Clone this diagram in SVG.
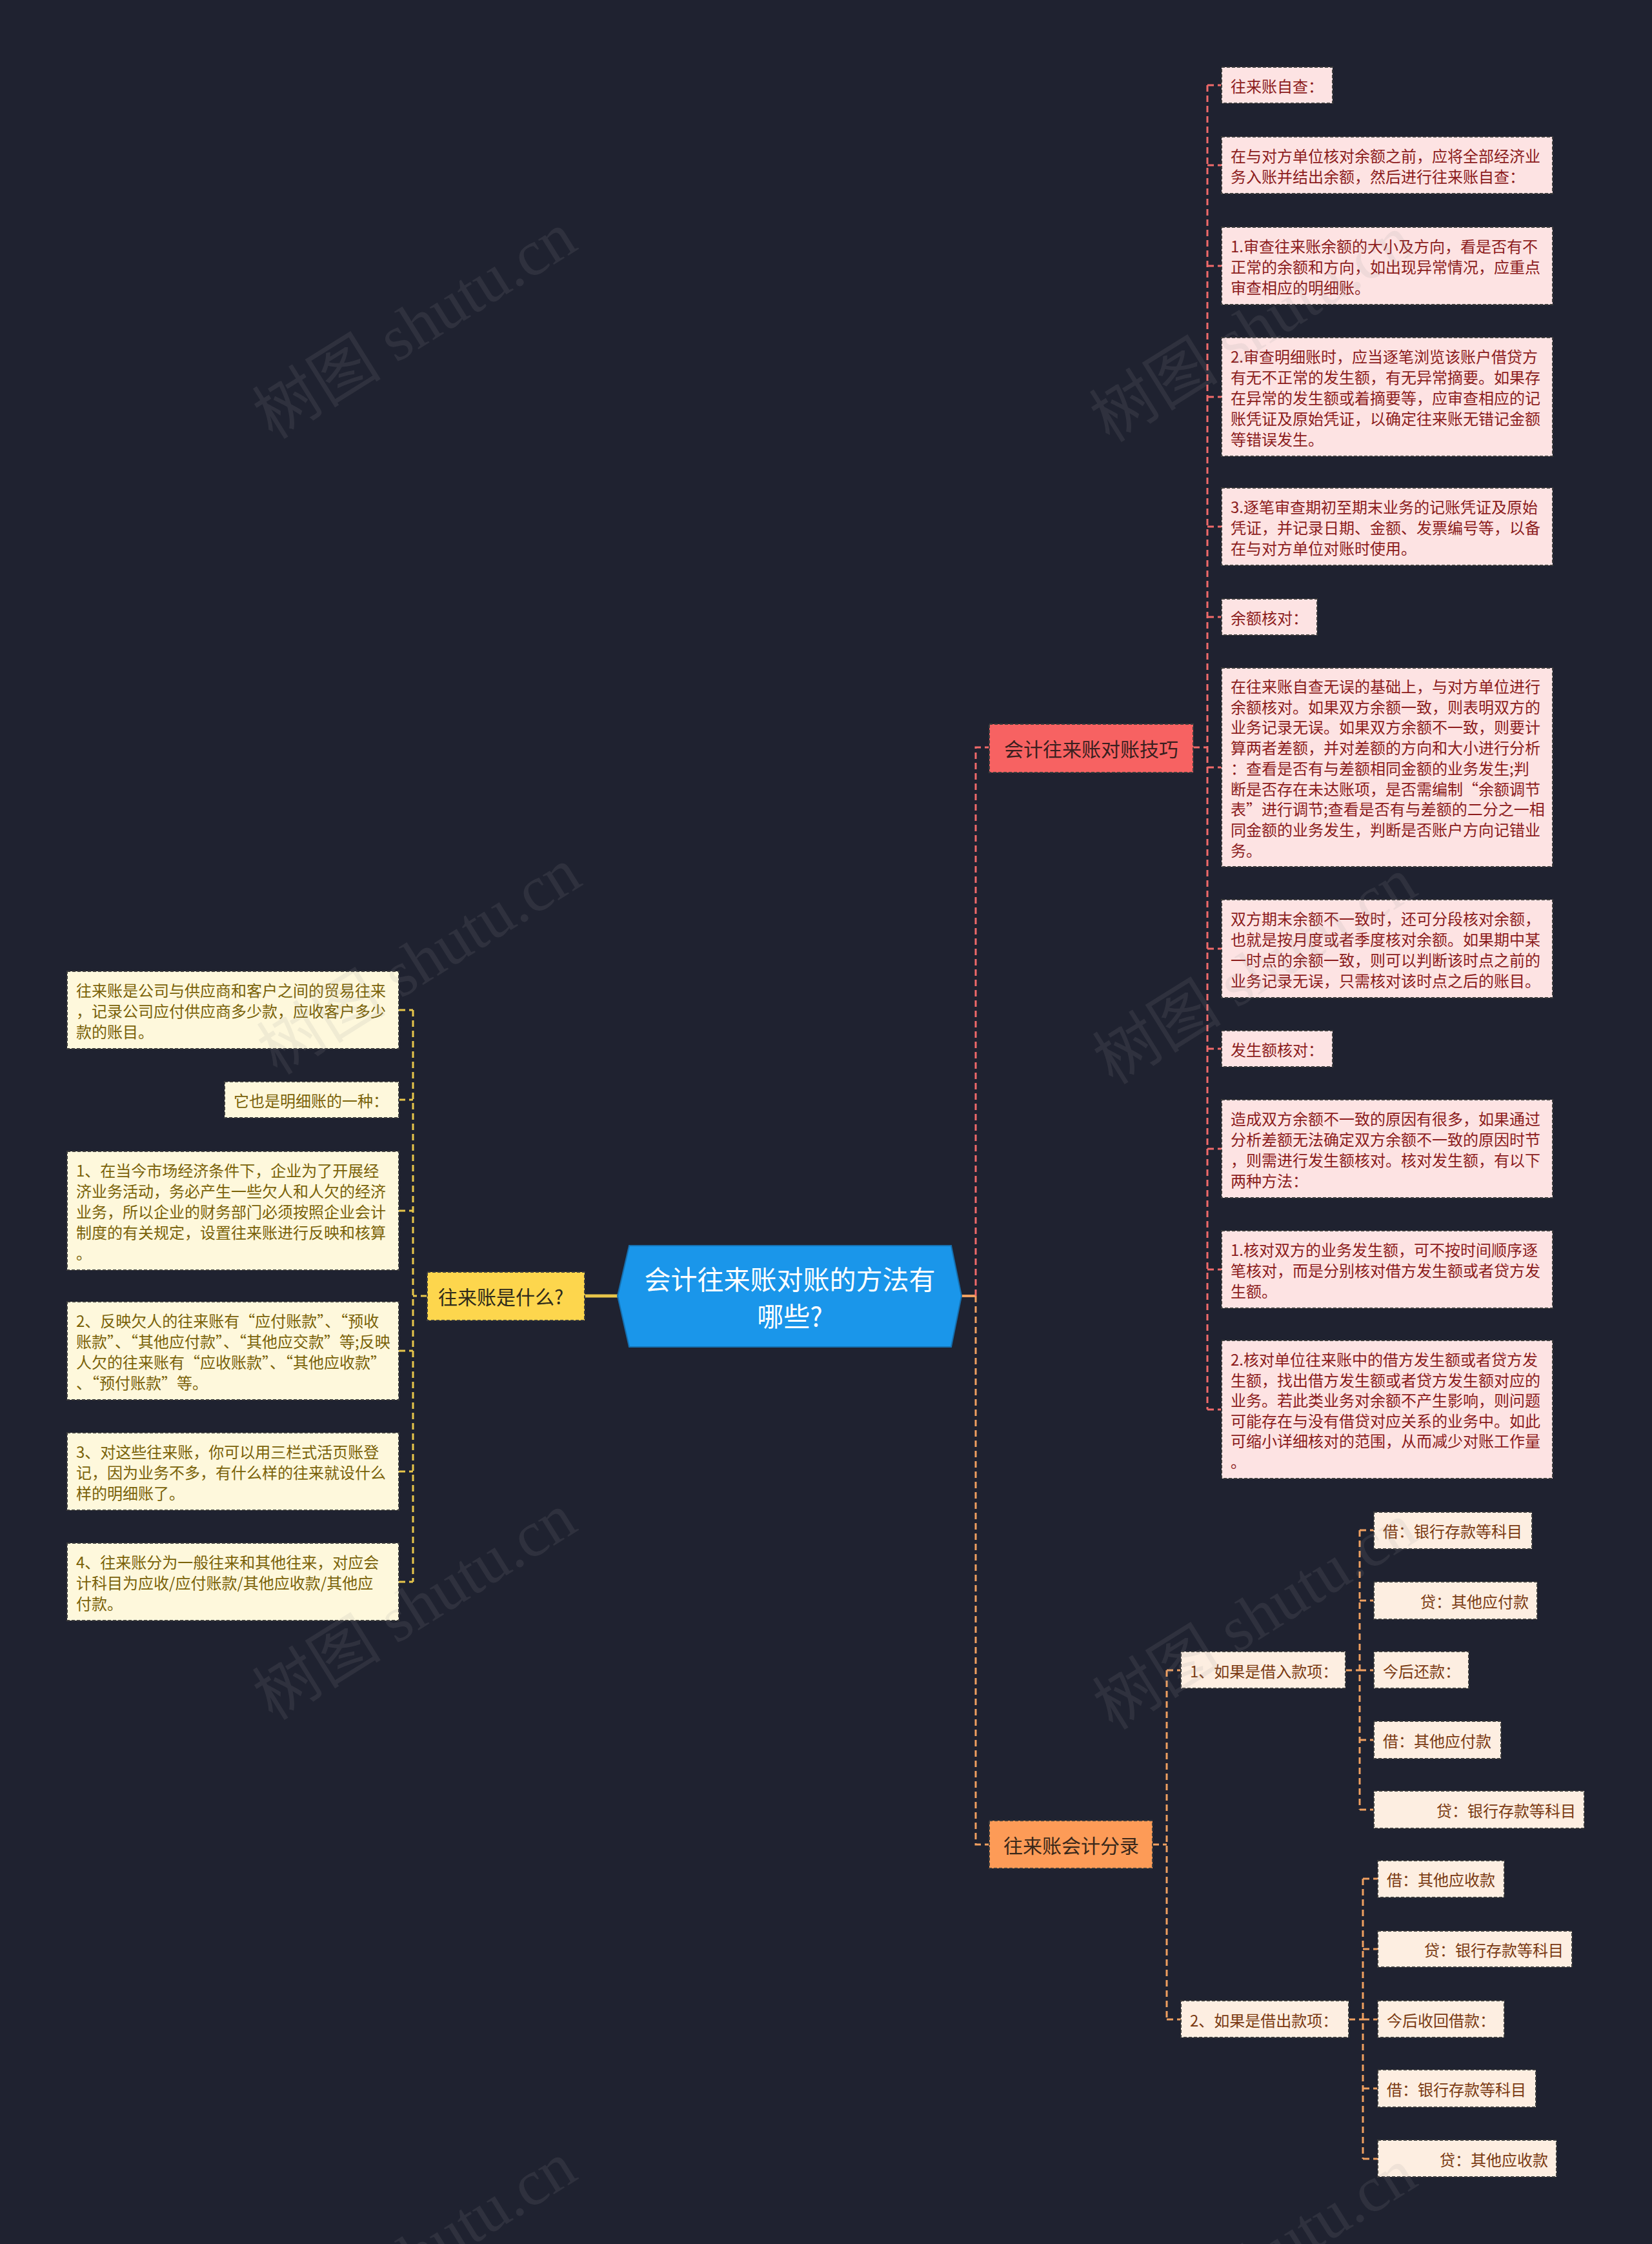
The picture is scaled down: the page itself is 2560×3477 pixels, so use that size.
<svg xmlns="http://www.w3.org/2000/svg" width="2560" height="3477" viewBox="0 0 2560 3477">
<style>
text{font-family:"Noto Sans CJK SC","Noto Sans",sans-serif;dominant-baseline:central}
.bg{fill:#1f2230}
.box{stroke:#3c3c3c;stroke-width:2;stroke-dasharray:5 3}
.yl{fill:#fef8dc}.ylt{fill:#7a6208;font-size:24px}
.pk{fill:#fde3e3}.pkt{fill:#8c1c1c;font-size:24px}
.pc{fill:#fdeee1}.pct{fill:#7a3a12;font-size:24px}
.main{font-size:30px}
.cy{fill:none;stroke:#e8c64a;stroke-width:3;stroke-dasharray:10 6}
.cr{fill:none;stroke:#f06a6a;stroke-width:3;stroke-dasharray:10 6}
.co{fill:none;stroke:#f0a060;stroke-width:3;stroke-dasharray:10 6}
.wm{font-family:"Liberation Serif","Noto Sans CJK SC",serif;font-size:100px;fill:#9a9a9a;opacity:0.13}
</style>
<rect class="bg" x="0" y="0" width="2560" height="3477"/>

<g id="connectors">
  <line x1="906" y1="2008" x2="957" y2="2008" stroke="#e8c64a" stroke-width="5"/>
  <path class="cy" d="M662 2008H640M640 1565V2451M618 1565H640M618 1704H640M618 1876H640M618 2093H640M618 2280H640M618 2451H640"/>
  <line x1="1490" y1="2008" x2="1512" y2="2008" stroke="#f0a060" stroke-width="4"/>
  <path class="cr" d="M1512 2008V1158H1533"/>
  <path class="co" d="M1512 2008V2858H1533"/>
  <path class="cr" d="M1849 1158H1871M1871 132V2184M1871 132H1893M1871 256H1893M1871 412H1893M1871 615H1893M1871 816H1893M1871 956H1893M1871 1189H1893M1871 1470H1893M1871 1625H1893M1871 1780H1893M1871 1967H1893M1871 2184H1893"/>
  <path class="co" d="M1786 2858H1808M1808 2588V3129M1808 2588H1830M1808 3129H1830"/>
  <path class="co" d="M2085 2588H2107M2107 2371V2804M2107 2371H2129M2107 2480H2129M2107 2588H2129M2107 2696H2129M2107 2804H2129"/>
  <path class="co" d="M2090 3129H2112M2112 2911V3345M2112 2911H2135M2112 3020H2135M2112 3129H2135M2112 3236H2135M2112 3345H2135"/>
</g>

<g id="central">
  <polygon points="975,1930 1474,1930 1490,2008 1474,2087 975,2087 957,2008" fill="#1a96ea" stroke="#1670b0" stroke-width="2"/>
  <text x="1224" y="1980" text-anchor="middle" fill="#ffffff" font-size="41">会计往来账对账的方法有</text>
  <text x="1224" y="2037" text-anchor="middle" fill="#ffffff" font-size="41">哪些?</text>
</g>

<g id="n-what">
  <rect class="box" x="662" y="1971" width="244" height="75" fill="#fdd64d"/>
  <text class="main" x="679" y="2008" fill="#2e2a1a">往来账是什么?</text>
</g>
<g id="n-l1">
  <rect class="box yl" x="104" y="1505" width="514" height="120"/>
  <text class="ylt" x="118" y="1533">往来账是公司与供应商和客户之间的贸易往来</text>
  <text class="ylt" x="118" y="1565">，记录公司应付供应商多少款，应收客户多少</text>
  <text class="ylt" x="118" y="1597">款的账目。</text>
</g>
<g id="n-l2">
  <rect class="box yl" x="348" y="1676" width="270" height="56"/>
  <text class="ylt" x="362" y="1704">它也是明细账的一种：</text>
</g>
<g id="n-l3">
  <rect class="box yl" x="104" y="1784" width="514" height="184"/>
  <text class="ylt" x="118" y="1812">1、在当今市场经济条件下，企业为了开展经</text>
  <text class="ylt" x="118" y="1844">济业务活动，务必产生一些欠人和人欠的经济</text>
  <text class="ylt" x="118" y="1876">业务，所以企业的财务部门必须按照企业会计</text>
  <text class="ylt" x="118" y="1908">制度的有关规定，设置往来账进行反映和核算</text>
  <text class="ylt" x="118" y="1940">。</text>
</g>
<g id="n-l4">
  <rect class="box yl" x="104" y="2017" width="514" height="152"/>
  <text class="ylt" x="118" y="2045">2、反映欠人的往来账有“应付账款”、“预收</text>
  <text class="ylt" x="118" y="2077">账款”、“其他应付款”、“其他应交款”等;反映</text>
  <text class="ylt" x="118" y="2109">人欠的往来账有“应收账款”、“其他应收款”</text>
  <text class="ylt" x="118" y="2141">、“预付账款”等。</text>
</g>
<g id="n-l5">
  <rect class="box yl" x="104" y="2220" width="514" height="120"/>
  <text class="ylt" x="118" y="2248">3、对这些往来账，你可以用三栏式活页账登</text>
  <text class="ylt" x="118" y="2280">记，因为业务不多，有什么样的往来就设什么</text>
  <text class="ylt" x="118" y="2312">样的明细账了。</text>
</g>
<g id="n-l6">
  <rect class="box yl" x="104" y="2391" width="514" height="120"/>
  <text class="ylt" x="118" y="2419">4、往来账分为一般往来和其他往来，对应会</text>
  <text class="ylt" x="118" y="2451">计科目为应收/应付账款/其他应收款/其他应</text>
  <text class="ylt" x="118" y="2483">付款。</text>
</g>

<g id="n-skill">
  <rect class="box" x="1533" y="1122" width="316" height="75" fill="#f76262"/>
  <text class="main" x="1691" y="1159" text-anchor="middle" fill="#3a1f1f">会计往来账对账技巧</text>
</g>
<g id="n-r1">
  <rect class="box pk" x="1893" y="104" width="172" height="56"/>
  <text class="pkt" x="1907" y="132">往来账自查：</text>
</g>
<g id="n-r2">
  <rect class="box pk" x="1893" y="212" width="513" height="88"/>
  <text class="pkt" x="1907" y="240">在与对方单位核对余额之前，应将全部经济业</text>
  <text class="pkt" x="1907" y="272">务入账并结出余额，然后进行往来账自查：</text>
</g>
<g id="n-r3">
  <rect class="box pk" x="1893" y="352" width="513" height="120"/>
  <text class="pkt" x="1907" y="380">1.审查往来账余额的大小及方向，看是否有不</text>
  <text class="pkt" x="1907" y="412">正常的余额和方向，如出现异常情况，应重点</text>
  <text class="pkt" x="1907" y="444">审查相应的明细账。</text>
</g>
<g id="n-r4">
  <rect class="box pk" x="1893" y="523" width="513" height="184"/>
  <text class="pkt" x="1907" y="551">2.审查明细账时，应当逐笔浏览该账户借贷方</text>
  <text class="pkt" x="1907" y="583">有无不正常的发生额，有无异常摘要。如果存</text>
  <text class="pkt" x="1907" y="615">在异常的发生额或着摘要等，应审查相应的记</text>
  <text class="pkt" x="1907" y="647">账凭证及原始凭证，以确定往来账无错记金额</text>
  <text class="pkt" x="1907" y="679">等错误发生。</text>
</g>
<g id="n-r5">
  <rect class="box pk" x="1893" y="756" width="513" height="120"/>
  <text class="pkt" x="1907" y="784">3.逐笔审查期初至期末业务的记账凭证及原始</text>
  <text class="pkt" x="1907" y="816">凭证，并记录日期、金额、发票编号等，以备</text>
  <text class="pkt" x="1907" y="848">在与对方单位对账时使用。</text>
</g>
<g id="n-r6">
  <rect class="box pk" x="1893" y="928" width="148" height="56"/>
  <text class="pkt" x="1907" y="956">余额核对：</text>
</g>
<g id="n-r7">
  <rect class="box pk" x="1893" y="1035" width="513" height="308"/>
  <text class="pkt" x="1907" y="1062">在往来账自查无误的基础上，与对方单位进行</text>
  <text class="pkt" x="1907" y="1094">余额核对。如果双方余额一致，则表明双方的</text>
  <text class="pkt" x="1907" y="1125">业务记录无误。如果双方余额不一致，则要计</text>
  <text class="pkt" x="1907" y="1157">算两者差额，并对差额的方向和大小进行分析</text>
  <text class="pkt" x="1907" y="1189">：查看是否有与差额相同金额的业务发生;判</text>
  <text class="pkt" x="1907" y="1221">断是否存在未达账项，是否需编制“余额调节</text>
  <text class="pkt" x="1907" y="1252">表”进行调节;查看是否有与差额的二分之一相</text>
  <text class="pkt" x="1907" y="1284">同金额的业务发生，判断是否账户方向记错业</text>
  <text class="pkt" x="1907" y="1316">务。</text>
</g>
<g id="n-r8">
  <rect class="box pk" x="1893" y="1394" width="513" height="152"/>
  <text class="pkt" x="1907" y="1422">双方期末余额不一致时，还可分段核对余额，</text>
  <text class="pkt" x="1907" y="1454">也就是按月度或者季度核对余额。如果期中某</text>
  <text class="pkt" x="1907" y="1486">一时点的余额一致，则可以判断该时点之前的</text>
  <text class="pkt" x="1907" y="1518">业务记录无误，只需核对该时点之后的账目。</text>
</g>
<g id="n-r9">
  <rect class="box pk" x="1893" y="1597" width="172" height="56"/>
  <text class="pkt" x="1907" y="1625">发生额核对：</text>
</g>
<g id="n-r10">
  <rect class="box pk" x="1893" y="1704" width="513" height="152"/>
  <text class="pkt" x="1907" y="1732">造成双方余额不一致的原因有很多，如果通过</text>
  <text class="pkt" x="1907" y="1764">分析差额无法确定双方余额不一致的原因时节</text>
  <text class="pkt" x="1907" y="1796">，则需进行发生额核对。核对发生额，有以下</text>
  <text class="pkt" x="1907" y="1828">两种方法：</text>
</g>
<g id="n-r11">
  <rect class="box pk" x="1893" y="1907" width="513" height="120"/>
  <text class="pkt" x="1907" y="1935">1.核对双方的业务发生额，可不按时间顺序逐</text>
  <text class="pkt" x="1907" y="1967">笔核对，而是分别核对借方发生额或者贷方发</text>
  <text class="pkt" x="1907" y="1999">生额。</text>
</g>
<g id="n-r12">
  <rect class="box pk" x="1893" y="2077" width="513" height="214"/>
  <text class="pkt" x="1907" y="2105">2.核对单位往来账中的借方发生额或者贷方发</text>
  <text class="pkt" x="1907" y="2137">生额，找出借方发生额或者贷方发生额对应的</text>
  <text class="pkt" x="1907" y="2168">业务。若此类业务对余额不产生影响，则问题</text>
  <text class="pkt" x="1907" y="2200">可能存在与没有借贷对应关系的业务中。如此</text>
  <text class="pkt" x="1907" y="2231">可缩小详细核对的范围，从而减少对账工作量</text>
  <text class="pkt" x="1907" y="2263">。</text>
</g>

<g id="n-entry">
  <rect class="box" x="1533" y="2821" width="253" height="74" fill="#fd9b57"/>
  <text class="main" x="1660" y="2858" text-anchor="middle" fill="#3a281a">往来账会计分录</text>
</g>
<g id="n-borrow">
  <rect class="box pc" x="1830" y="2559" width="255" height="57"/>
  <text class="pct" x="1844" y="2588">1、如果是借入款项：</text>
</g>
<g id="n-b1">
  <rect class="box pc" x="2129" y="2343" width="245" height="57"/>
  <text class="pct" x="2143" y="2371">借：银行存款等科目</text>
</g>
<g id="n-b2">
  <rect class="box pc" x="2129" y="2451" width="253" height="58"/>
  <text class="pct" x="2369" y="2480" text-anchor="end">贷：其他应付款</text>
</g>
<g id="n-b3">
  <rect class="box pc" x="2129" y="2559" width="147" height="57"/>
  <text class="pct" x="2143" y="2588">今后还款：</text>
</g>
<g id="n-b4">
  <rect class="box pc" x="2129" y="2667" width="197" height="58"/>
  <text class="pct" x="2143" y="2696">借：其他应付款</text>
</g>
<g id="n-b5">
  <rect class="box pc" x="2129" y="2775" width="326" height="58"/>
  <text class="pct" x="2442" y="2804" text-anchor="end">贷：银行存款等科目</text>
</g>
<g id="n-lend">
  <rect class="box pc" x="1830" y="3100" width="260" height="57"/>
  <text class="pct" x="1844" y="3129">2、如果是借出款项：</text>
</g>
<g id="n-d1">
  <rect class="box pc" x="2135" y="2883" width="196" height="57"/>
  <text class="pct" x="2149" y="2911">借：其他应收款</text>
</g>
<g id="n-d2">
  <rect class="box pc" x="2135" y="2992" width="301" height="56"/>
  <text class="pct" x="2423" y="3020" text-anchor="end">贷：银行存款等科目</text>
</g>
<g id="n-d3">
  <rect class="box pc" x="2135" y="3100" width="196" height="57"/>
  <text class="pct" x="2149" y="3129">今后收回借款：</text>
</g>
<g id="n-d4">
  <rect class="box pc" x="2135" y="3207" width="245" height="58"/>
  <text class="pct" x="2149" y="3236">借：银行存款等科目</text>
</g>
<g id="n-d5">
  <rect class="box pc" x="2135" y="3316" width="277" height="57"/>
  <text class="pct" x="2399" y="3345" text-anchor="end">贷：其他应收款</text>
</g>

<g id="watermarks">
  <text class="wm" text-anchor="middle" transform="translate(643,505) rotate(-32)">树图 shutu.cn</text>
  <text class="wm" text-anchor="middle" transform="translate(1940,510) rotate(-32)">树图 shutu.cn</text>
  <text class="wm" text-anchor="middle" transform="translate(650,1490) rotate(-32)">树图 shutu.cn</text>
  <text class="wm" text-anchor="middle" transform="translate(1945,1505) rotate(-32)">树图 shutu.cn</text>
  <text class="wm" text-anchor="middle" transform="translate(643,2490) rotate(-32)">树图 shutu.cn</text>
  <text class="wm" text-anchor="middle" transform="translate(1945,2505) rotate(-32)">树图 shutu.cn</text>
  <text class="wm" text-anchor="middle" transform="translate(643,3495) rotate(-32)">树图 shutu.cn</text>
  <text class="wm" text-anchor="middle" transform="translate(1945,3505) rotate(-32)">树图 shutu.cn</text>
</g>
</svg>
